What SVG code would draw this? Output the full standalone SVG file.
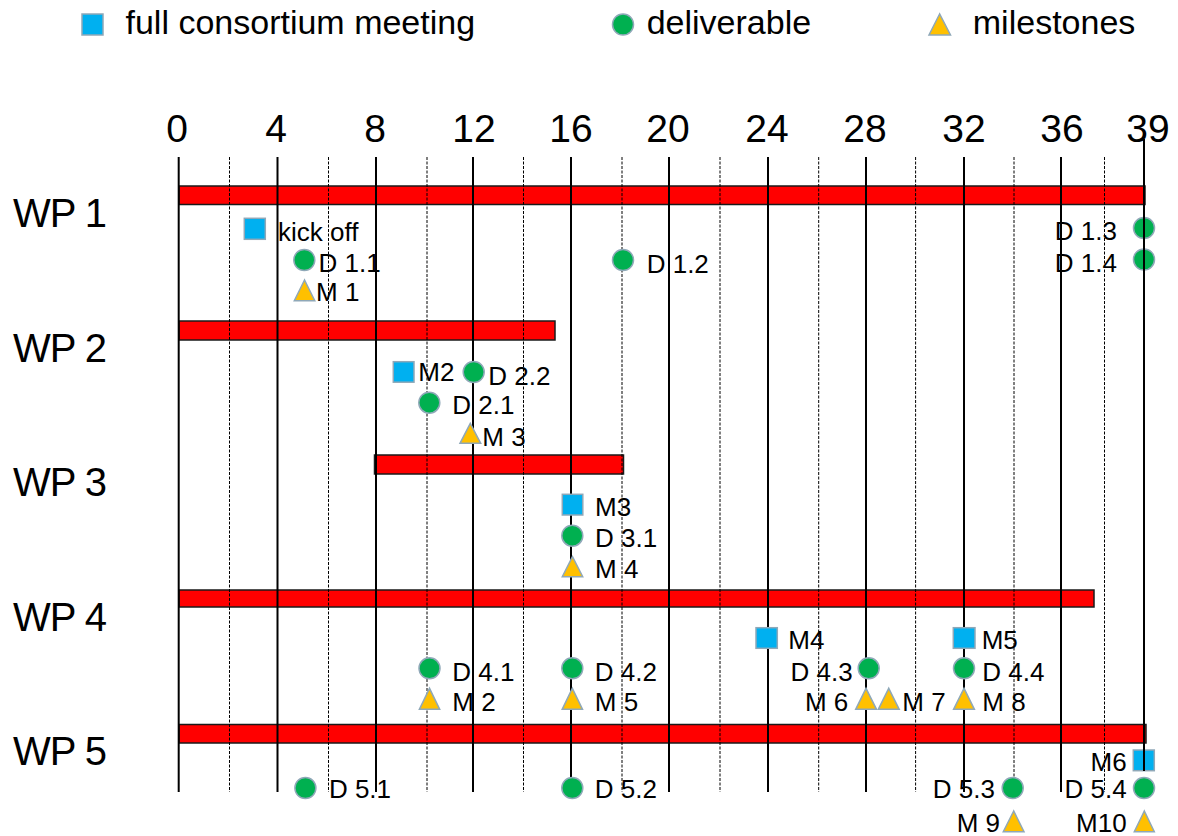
<svg xmlns="http://www.w3.org/2000/svg" width="1178" height="836" viewBox="0 0 1178 836">
<style>
.sq{fill:#00B0F0;stroke:#8FA8B8;stroke-width:1.5}
.ci{fill:#00B050;stroke:#8FA8B8;stroke-width:1.5}
.tr{fill:#FFC000;stroke:#8FA8B8;stroke-width:1.5}
.bar{fill:#FF0000;stroke:#1a1a1a;stroke-width:1.5}
.solid{stroke:#000;stroke-width:2;fill:none}
.dash{stroke:#000;stroke-width:1;stroke-dasharray:3,1.5;fill:none}
text{font-family:"Liberation Sans",Arial,sans-serif;fill:#000}
.lbl{font-size:26px}
.end{text-anchor:end}
.axis{font-size:39px;text-anchor:middle}
.wp{font-size:40px;letter-spacing:-1px}
.leg{font-size:34px}
</style>
<rect width="1178" height="836" fill="#fff"/>
<g id="legend">
<rect class="sq" x="82" y="14" width="21" height="21"/>
<text class="leg" x="125.5" y="34">full consortium meeting</text>
<circle class="ci" cx="623" cy="24.5" r="10.5"/>
<text class="leg" x="646.7" y="34">deliverable</text>
<polygon class="tr" points="939.6,14 929,35 950.5,35"/>
<text class="leg" x="972.8" y="34">milestones</text>
</g>
<g id="axis-labels">
<text class="axis" x="177" y="142">0</text>
<text class="axis" x="276" y="142">4</text>
<text class="axis" x="375" y="142">8</text>
<text class="axis" x="474" y="142">12</text>
<text class="axis" x="571" y="142">16</text>
<text class="axis" x="668" y="142">20</text>
<text class="axis" x="767" y="142">24</text>
<text class="axis" x="865" y="142">28</text>
<text class="axis" x="964" y="142">32</text>
<text class="axis" x="1062" y="142">36</text>
<text class="axis" x="1148" y="142">39</text>
</g>
<g id="wp-labels">
<text class="wp" x="13" y="227">WP 1</text>
<text class="wp" x="13" y="361.5">WP 2</text>
<text class="wp" x="13" y="496">WP 3</text>
<text class="wp" x="13" y="630.5">WP 4</text>
<text class="wp" x="13" y="765">WP 5</text>
</g>
<g id="bars">
<rect id="bar-wp1" class="bar" x="179" y="186" width="966" height="18.5"/>
<rect id="bar-wp2" class="bar" x="179" y="321" width="376" height="19"/>
<rect id="bar-wp3" class="bar" x="374.5" y="455" width="249" height="19"/>
<rect id="bar-wp4" class="bar" x="179" y="590" width="915" height="17"/>
<rect id="bar-wp5" class="bar" x="179" y="724.5" width="967" height="18.5"/>
</g>
<g id="connectors">
<path class="solid" d="M178.7,157V792M277.5,157V792M376,157V792M473,157V792M571,157V792M669,157V792M768,157V792M866,157V792M964,157V792M1061,157V792"/>
<path class="dash" d="M229.5,157V792M328.5,157V792M427,157V792M523.5,157V792M622,157V792M720,157V792M818.7,157V792M915.6,157V792M1014,157V792M1104.5,157V792"/>
</g>
<g id="wp1-markers">
<g id="kickoff"><rect class="sq" x="244.3" y="218.3" width="21" height="21"/><text class="lbl" x="278" y="241">kick off</text></g>
<g id="d11"><circle class="ci" cx="304.3" cy="260" r="10.5"/><text class="lbl" x="318.5" y="272">D 1.1</text></g>
<g id="m1"><polygon class="tr" points="304.5,280 294.3,300.7 314.8,300.7"/><text class="lbl" x="316" y="301">M 1</text></g>
<g id="d12"><circle class="ci" cx="623" cy="260" r="10.5"/><text class="lbl" x="646.7" y="272.5">D 1.2</text></g>
<g id="d13"><circle class="ci" cx="1144" cy="228" r="10.5"/><text class="lbl end" x="1117" y="240">D 1.3</text></g>
<g id="d14"><circle class="ci" cx="1144" cy="259.5" r="10.5"/><text class="lbl end" x="1117" y="272">D 1.4</text></g>
</g>
<g id="wp2-markers">
<g id="meet-m2"><rect class="sq" x="393.3" y="361.7" width="20.7" height="20.5"/><text class="lbl" x="418.3" y="381">M2</text></g>
<g id="d22"><circle class="ci" cx="473.7" cy="372" r="10.5"/><text class="lbl" x="488.3" y="385">D 2.2</text></g>
<g id="d21"><circle class="ci" cx="429.3" cy="402.7" r="10.5"/><text class="lbl" x="452.3" y="414.3">D 2.1</text></g>
<g id="m3"><polygon class="tr" points="470.3,423.3 460,443.3 480.7,443.3"/><text class="lbl" x="482.3" y="445.7">M 3</text></g>
</g>
<g id="wp3-markers">
<g id="meet-m3"><rect class="sq" x="562.3" y="494.3" width="20.5" height="20.7"/><text class="lbl" x="595" y="516">M3</text></g>
<g id="d31"><circle class="ci" cx="572.3" cy="535.7" r="10.5"/><text class="lbl" x="595" y="547.3">D 3.1</text></g>
<g id="m4"><polygon class="tr" points="572.5,556.7 562.3,576.7 582.7,576.7"/><text class="lbl" x="595" y="577.7">M 4</text></g>
</g>
<g id="wp4-markers">
<g id="meet-m4"><rect class="sq" x="756" y="627.7" width="21.3" height="20.6"/><text class="lbl" x="788.3" y="649.3">M4</text></g>
<g id="meet-m5"><rect class="sq" x="953.3" y="627.7" width="21.7" height="20.6"/><text class="lbl" x="981.7" y="649.3">M5</text></g>
<g id="d41"><circle class="ci" cx="429.5" cy="668.3" r="10.5"/><text class="lbl" x="452.3" y="680.7">D 4.1</text></g>
<g id="d42"><circle class="ci" cx="572.3" cy="668.3" r="10.5"/><text class="lbl" x="594.8" y="680.7">D 4.2</text></g>
<g id="d43"><circle class="ci" cx="868.7" cy="668.3" r="10.5"/><text class="lbl end" x="852.7" y="680.7">D 4.3</text></g>
<g id="d44"><circle class="ci" cx="964" cy="668.3" r="10.5"/><text class="lbl" x="982.3" y="680.7">D 4.4</text></g>
<g id="m2"><polygon class="tr" points="429.5,688.3 419.4,709.3 439.7,709.3"/><text class="lbl" x="452.3" y="710.7">M 2</text></g>
<g id="m5"><polygon class="tr" points="572.3,688.3 562.2,709.3 582.5,709.3"/><text class="lbl" x="594.8" y="710.7">M 5</text></g>
<g id="m6"><polygon class="tr" points="866,688.3 855.7,709.3 876.5,709.3"/><text class="lbl end" x="848.3" y="710.7">M 6</text></g>
<g id="m7"><polygon class="tr" points="888.7,688.3 878.3,709.3 899.2,709.3"/><text class="lbl" x="902.3" y="710.7">M 7</text></g>
<g id="m8"><polygon class="tr" points="964,688.3 953.6,709.3 974.4,709.3"/><text class="lbl" x="982.3" y="710.7">M 8</text></g>
</g>
<g id="wp5-markers">
<g id="meet-m6"><rect class="sq" x="1133.3" y="750" width="21" height="20.7"/><text class="lbl end" x="1126.7" y="770.7">M6</text></g>
<g id="d51"><circle class="ci" cx="305.4" cy="788" r="10.5"/><text class="lbl" x="328.9" y="798.3">D 5.1</text></g>
<g id="d52"><circle class="ci" cx="572.3" cy="788" r="10.5"/><text class="lbl" x="594.8" y="798.3">D 5.2</text></g>
<g id="d53"><circle class="ci" cx="1012.7" cy="788" r="10.5"/><text class="lbl end" x="995" y="798.3">D 5.3</text></g>
<g id="d54"><circle class="ci" cx="1144" cy="788" r="10.5"/><text class="lbl end" x="1126.7" y="798.3">D 5.4</text></g>
<g id="m9"><polygon class="tr" points="1013.7,811 1003.3,831.7 1024,831.7"/><text class="lbl end" x="1000" y="831.5">M 9</text></g>
<g id="m10"><polygon class="tr" points="1144.3,811 1134.3,831.7 1154.3,831.7"/><text class="lbl end" x="1126.7" y="831.5">M10</text></g>
</g>
<g id="end-line">
<path class="solid" d="M1144,139V771"/>
</g>
</svg>
